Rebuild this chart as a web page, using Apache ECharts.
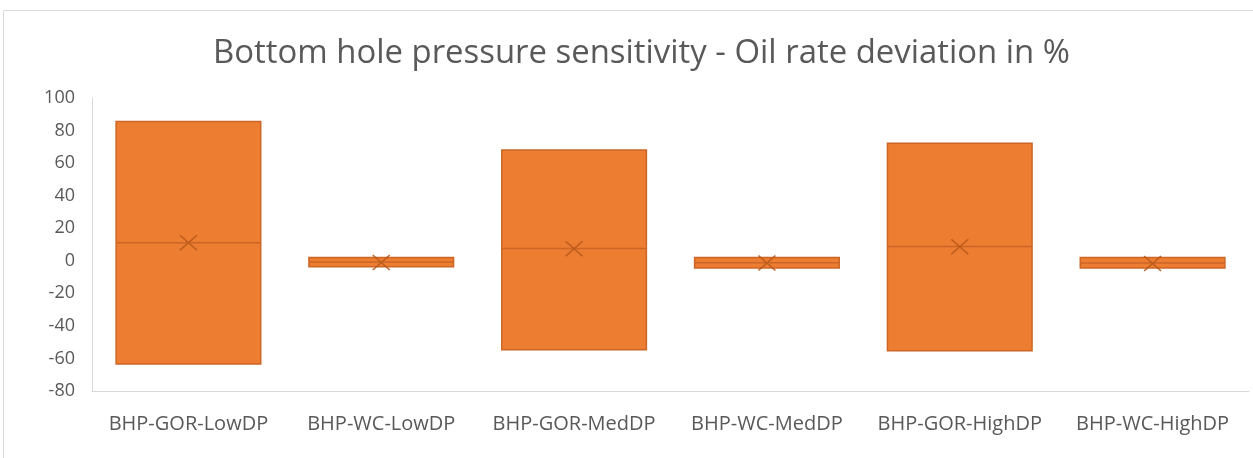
<!DOCTYPE html>
<html>
<head>
<meta charset="utf-8">
<script src="https://cdn.jsdelivr.net/npm/echarts@6/dist/echarts.min.js"></script>
<style>
  html, body { margin: 0; padding: 0; background: #ffffff; }
  #chart { width: 1253px; height: 458px; }
</style>
</head>
<body>
<div id="chart"></div>
<script>
// Scenario categories along the x axis
const categories = ['BHP-GOR-LowDP', 'BHP-WC-LowDP', 'BHP-GOR-MedDP', 'BHP-WC-MedDP', 'BHP-GOR-HighDP', 'BHP-WC-HighDP'];
// Box bounds (lower / upper quartile) of the oil rate deviation, %
const boxLow  = [-63.4, -3.7, -54.6, -4.5, -55.2, -4.5];
const boxHigh = [85.5, 2.0, 68.1, 2.0, 72.2, 2.0];
// Median line and mean marker, %
const medians = [11.0, -0.8, 7.5, -1.2, 8.8, -1.4];
const means   = [11.0, -1.0, 7.4, -1.3, 8.6, -1.6];
// Value axis range
const yMin = -80, yMax = 100, yStep = 20;

const FONT = '"Open Sans", "Noto Sans", sans-serif';
const ORANGE = '#ED7D31';
const EDGE = '#CC6626';
const TEXT = '#595959';

// Whiskers collapse onto the box edges: [min, Q1, median, Q3, max]
const boxData = categories.map((c, i) => [boxLow[i], boxLow[i], medians[i], boxHigh[i], boxHigh[i]]);

const chart = echarts.init(document.getElementById('chart'), null, { renderer: 'canvas' });
chart.setOption({
  animation: false,
  backgroundColor: '#ffffff',
  title: {
    text: 'Bottom hole pressure sensitivity - Oil rate deviation in %',
    left: 208,
    top: 32,
    textStyle: { fontFamily: FONT, fontSize: 32.9, fontWeight: 'normal', color: TEXT }
  },
  graphic: [{
    type: 'rect',
    shape: { x: 3.5, y: 10.5, width: 1300, height: 500 },
    style: { fill: 'none', stroke: '#D9D9D9', lineWidth: 1 },
    silent: true, z: -1
  }],
  grid: { left: 92, right: 4, top: 98, bottom: 67, containLabel: false },
  xAxis: {
    type: 'category',
    data: categories,
    boundaryGap: true,
    axisLine: { show: true, onZero: false, lineStyle: { color: '#D9D9D9', width: 1 } },
    axisTick: { show: false },
    axisLabel: { interval: 0, hideOverlap: false, fontFamily: FONT, fontSize: 20, color: TEXT, margin: 23 },
    splitLine: { show: false }
  },
  yAxis: {
    type: 'value',
    min: yMin, max: yMax, interval: yStep,
    axisLine: { show: true, lineStyle: { color: '#D9D9D9', width: 1 } },
    axisTick: { show: false },
    axisLabel: { fontFamily: FONT, fontSize: 18, color: TEXT, margin: 17 },
    splitLine: { show: false }
  },
  series: [
    {
      type: 'boxplot',
      data: boxData,
      boxWidth: ['75%', '75%'],
      itemStyle: { color: ORANGE, borderColor: EDGE, borderWidth: 1.5 },
      emphasis: { disabled: true }
    },
    {
      type: 'scatter',
      data: means,
      symbol: 'path://M0,0L10,10M10,0L0,10',
      symbolSize: [17, 15],
      itemStyle: { color: 'none', borderColor: '#B85A1C', borderWidth: 1.5, opacity: 0.9 },
      emphasis: { disabled: true },
      z: 5
    }
  ]
});
</script>
</body>
</html>
